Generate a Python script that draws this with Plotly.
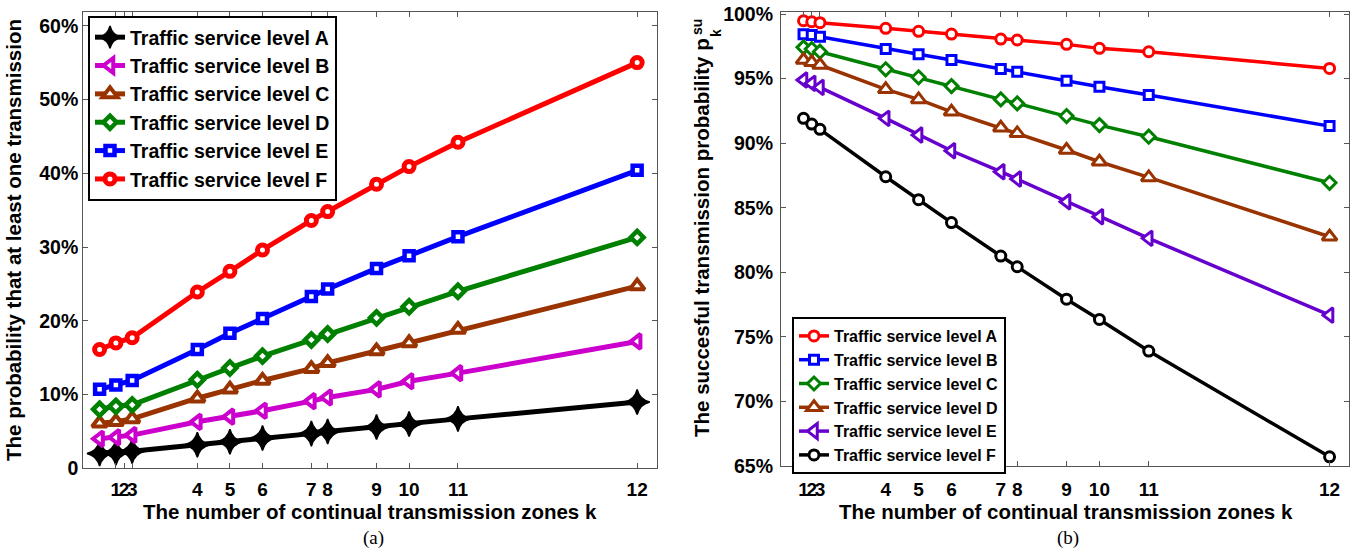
import plotly.graph_objects as go

# ---------------- data ----------------
k_labels = ["1", "2", "3", "4", "5", "6", "7", "8", "9", "10", "11", "12"]
k_tick_pos = [2, 2.5, 3, 7, 9, 11, 14, 15, 18, 20, 23, 34]

# (a) probability that at least one transmission (percent)
x_a = [1, 2, 3, 7, 9, 11, 14, 15, 18, 20, 23, 34]
a_level_A = [2.0, 2.1, 2.3, 3.2, 3.6, 4.1, 4.7, 5.0, 5.6, 6.0, 6.7, 9.0]
a_level_B = [4.0, 4.2, 4.5, 6.3, 7.0, 7.8, 9.1, 9.6, 10.7, 11.8, 12.9, 17.2]
a_level_C = [6.1, 6.3, 6.7, 9.5, 10.7, 11.9, 13.5, 14.3, 15.9, 17.0, 18.8, 24.7]
a_level_D = [8.0, 8.4, 8.6, 12.0, 13.6, 15.2, 17.4, 18.2, 20.4, 21.9, 24.0, 31.3]
a_level_E = [10.7, 11.3, 11.9, 16.1, 18.3, 20.3, 23.3, 24.3, 27.1, 28.8, 31.4, 40.4]
a_level_F = [16.1, 17.0, 17.7, 23.9, 26.7, 29.6, 33.6, 34.8, 38.5, 40.9, 44.2, 55.0]

# (b) successful transmission probability (percent)
x_b = [2, 2.5, 3, 7, 9, 11, 14, 15, 18, 20, 23, 34]
b_level_A = [99.48, 99.40, 99.33, 98.89, 98.66, 98.45, 98.06, 97.99, 97.65, 97.34, 97.08, 95.79]
b_level_B = [98.43, 98.37, 98.24, 97.29, 96.88, 96.44, 95.74, 95.53, 94.83, 94.37, 93.73, 91.32]
b_level_C = [97.42, 97.29, 97.08, 95.72, 95.10, 94.42, 93.39, 93.08, 92.10, 91.40, 90.50, 86.93]
b_level_D = [96.44, 96.26, 96.05, 94.17, 93.39, 92.43, 91.19, 90.76, 89.47, 88.56, 87.35, 82.75]
b_level_E = [94.89, 94.63, 94.32, 91.92, 90.63, 89.41, 87.79, 87.22, 85.46, 84.30, 82.63, 76.68]
b_level_F = [91.92, 91.48, 91.07, 87.40, 85.62, 83.85, 81.26, 80.43, 77.92, 76.35, 73.90, 65.71]

a_ticks = [0, 10, 20, 30, 40, 50, 60]
a_tick_text = ["0", "10%", "20%", "30%", "40%", "50%", "60%"]
b_ticks = [65, 70, 75, 80, 85, 90, 95, 100]
b_tick_text = ["65%", "70%", "75%", "80%", "85%", "90%", "95%", "100%"]

level_names = ["Traffic service level A", "Traffic service level B",
               "Traffic service level C", "Traffic service level D",
               "Traffic service level E", "Traffic service level F"]

# ---------------- styling ----------------
W, H = 1364, 551
SANS = "Liberation Sans, Arial, sans-serif"
SERIF = "Liberation Serif, Times New Roman, serif"


def px_x(p):
    return p / W


def px_y(p):
    return 1 - p / H


fig = go.Figure()

style_a = [
    ("#000000", "star-diamond", 18, "#000000", 1.5),
    ("#CC00CC", "triangle-left", 13, "#FFFFFF", 4),
    ("#993300", "triangle-up", 13, "#FFFFFF", 4),
    ("#008000", "diamond", 10, "#FFFFFF", 4.5),
    ("#0000FF", "square", 9, "#FFFFFF", 4.5),
    ("#FF0000", "circle", 10, "#FFFFFF", 5),
]
series_a = [a_level_A, a_level_B, a_level_C, a_level_D, a_level_E, a_level_F]
for name, ys, (col, sym, sz, fill, mlw) in zip(level_names, series_a, style_a):
    fig.add_trace(go.Scatter(
        x=x_a, y=ys, name=name, mode="lines+markers",
        line=dict(color=col, width=5),
        marker=dict(symbol=sym, size=sz, color=fill,
                    line=dict(color=col, width=mlw)),
        xaxis="x", yaxis="y", legend="legend",
    ))

style_b = [
    ("#FF0000", "circle", 10, 3),
    ("#0000FF", "square", 9, 3),
    ("#008000", "diamond", 10, 3),
    ("#993300", "triangle-up", 13, 3),
    ("#6600CC", "triangle-left", 13, 3),
    ("#000000", "circle", 10, 3),
]
series_b = [b_level_A, b_level_B, b_level_C, b_level_D, b_level_E, b_level_F]
for name, ys, (col, sym, sz, mlw) in zip(level_names, series_b, style_b):
    fig.add_trace(go.Scatter(
        x=x_b, y=ys, name=name, mode="lines+markers",
        line=dict(color=col, width=3.5),
        marker=dict(symbol=sym, size=sz, color="#FFFFFF",
                    line=dict(color=col, width=mlw)),
        xaxis="x2", yaxis="y2", legend="legend2",
    ))

axis_common = dict(
    showline=True, linecolor="#555555", linewidth=1.2, mirror="ticks",
    ticks="inside", ticklen=5, tickcolor="#555555", tickwidth=1,
    showgrid=False, zeroline=False, tickangle=0, automargin=False,
)
xtick_font = dict(family=SANS, size=19, color="#000000", weight="bold")
ytick_font = dict(family=SANS, size=19.5, color="#000000", weight="bold")

fig.update_layout(
    width=W, height=H,
    margin=dict(l=0, r=0, t=0, b=0, autoexpand=False),
    paper_bgcolor="#FFFFFF", plot_bgcolor="#FFFFFF",
    showlegend=True,
    xaxis=dict(domain=[px_x(83.3), px_x(656.7)], range=[0, 35.2],
               tickmode="array", tickvals=k_tick_pos, ticktext=k_labels,
               tickfont=xtick_font, anchor="y", ticklabelstandoff=4, **axis_common),
    yaxis=dict(domain=[px_y(468.3), px_y(11.7)], range=[0, 61.9],
               tickmode="array", tickvals=a_ticks, ticktext=a_tick_text,
               tickfont=ytick_font, anchor="x", **axis_common),
    xaxis2=dict(domain=[px_x(781), px_x(1349.3)], range=[0.63, 35.2],
                tickmode="array", tickvals=k_tick_pos, ticktext=k_labels,
                tickfont=xtick_font, anchor="y2", ticklabelstandoff=6, **axis_common),
    yaxis2=dict(domain=[px_y(466), px_y(11.7)], range=[65, 100.18],
                tickmode="array", tickvals=b_ticks, ticktext=b_tick_text,
                tickfont=ytick_font, anchor="x2", ticklabelstandoff=3, **axis_common),
    legend=dict(x=px_x(88), y=px_y(16), xanchor="left", yanchor="top",
                bgcolor="#FFFFFF", bordercolor="#000000", borderwidth=2,
                font=dict(family=SANS, size=19.5, color="#000000", weight="bold"),
                traceorder="normal"),
    legend2=dict(x=px_x(792), y=px_y(317), xanchor="left", yanchor="top",
                 bgcolor="#FFFFFF", bordercolor="#000000", borderwidth=2,
                 font=dict(family=SANS, size=16, color="#000000", weight="bold"),
                 traceorder="normal"),
)

title_font = dict(family=SANS, size=20.5, color="#000000", weight="bold")
annotations = [
    dict(text="The number of continual transmission zones k", x=px_x(370), y=px_y(511),
         font=title_font),
    dict(text="The number of continual transmission zones k", x=px_x(1066), y=px_y(511),
         font=title_font),
    dict(text="The probability that at least one transmission", x=px_x(13), y=px_y(240),
         textangle=-90, font=title_font),
    dict(text="The succesful transmission probability p", x=px_x(701), y=px_y(238),
         textangle=-90, font=title_font),
    dict(text="k", x=px_x(716), y=px_y(33), textangle=-90,
         font=dict(family=SANS, size=14, color="#000000", weight="bold")),
    dict(text="su", x=px_x(697), y=px_y(27), textangle=-90,
         font=dict(family=SANS, size=14, color="#000000", weight="bold")),
    dict(text="(a)", x=px_x(374), y=px_y(538),
         font=dict(family=SERIF, size=19, color="#000000")),
    dict(text="(b)", x=px_x(1068), y=px_y(538),
         font=dict(family=SERIF, size=19, color="#000000")),
]
for a in annotations:
    fig.add_annotation(xref="paper", yref="paper", xanchor="center", yanchor="middle",
                       showarrow=False, **a)

fig.write_html("out.html")
